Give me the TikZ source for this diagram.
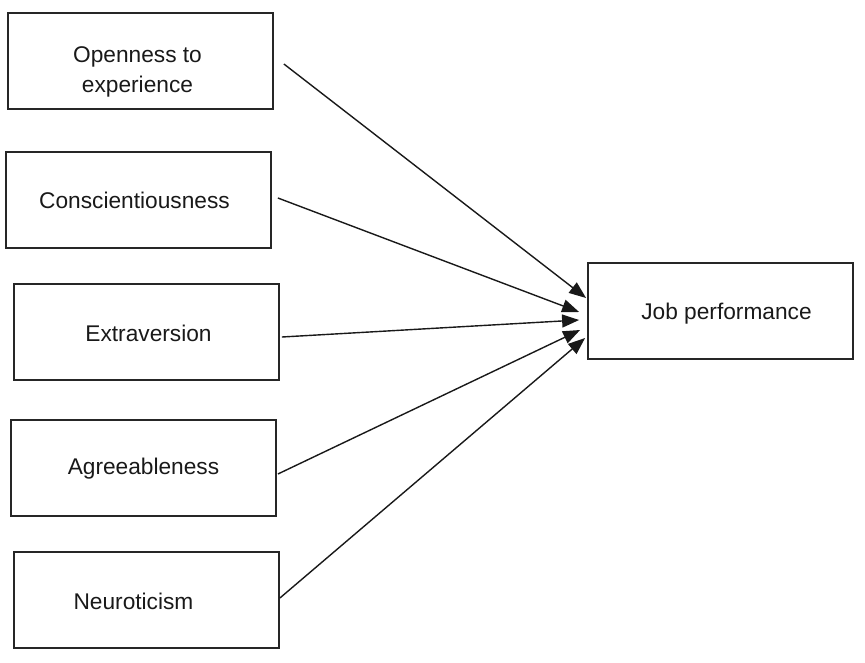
\documentclass[tikz,border=0pt]{standalone}
\usepackage{fontspec}
\setmainfont{Liberation Sans}
\usetikzlibrary{arrows.meta}
\begin{document}
\begin{tikzpicture}[x=1pt,y=-1pt,
  box/.style={draw=black!85, line width=1.8pt, minimum width=265pt, minimum height=96pt, inner sep=0pt},
  lab/.style={font=\fontsize{22.7}{29.5}\selectfont, text=black!90, align=center},
  link/.style={line width=1.4pt, black!90, -{Triangle[length=17pt,width=13pt]}}]
\useasboundingbox (0,0) rectangle (865,662);
\node[box, label={[lab, xshift=-3pt, yshift=-11pt]center:Openness to\\experience}] (open) at (140.5,61) {};
\node[box, label={[lab, xshift=-4pt]center:Conscientiousness}] (cons) at (138.5,200) {};
\node[box, label={[lab, xshift=2pt, yshift=-1pt]center:Extraversion}] (extr) at (146.5,332) {};
\node[box, label={[lab, xshift=0pt, yshift=-1pt]center:Agreeableness}] (agre) at (143.5,468) {};
\node[box, label={[lab, xshift=-13pt, yshift=-1pt]center:Neuroticism}] (neur) at (146.5,600) {};
\node[box, label={[lab, xshift=6pt, yshift=-3pt]center:Job performance}] (job) at (720.5,311) {};
\draw[link] ([xshift=10pt,yshift=-3pt]open.east) -- ([xshift=-1pt,yshift=13pt]job.west);
\draw[link] ([xshift=6pt,yshift=2pt]cons.east) -- ([xshift=-8pt,yshift=-1pt]job.west);
\draw[link] ([xshift=2pt,yshift=-5pt]extr.east) -- ([xshift=-8pt,yshift=-9pt]job.west);
\draw[link] ([xshift=1pt,yshift=-6pt]agre.east) -- ([xshift=-7pt,yshift=-19pt]job.west);
\draw[link] ([xshift=0pt,yshift=2pt]neur.east) -- ([xshift=-2pt,yshift=-27pt]job.west);
\end{tikzpicture}
\end{document}
